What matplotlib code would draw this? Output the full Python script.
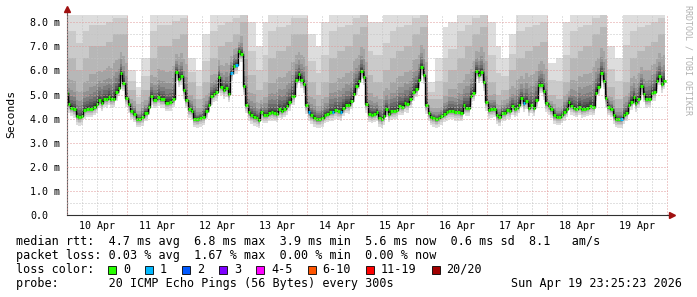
import numpy as np
import matplotlib
matplotlib.use('Agg')
import matplotlib.pyplot as plt
from matplotlib.patches import Rectangle
from matplotlib.ticker import FixedLocator, FuncFormatter, NullFormatter

# hours since Apr 10 00:00 and median rtt (ms)
hours = [0.3, 0.8, 1.9, 2.9, 4.0, 5.1, 5.9, 7.2, 8.3, 9.6, 10.9, 11.9, 12.9, 13.9, 14.9,
         16.0, 16.8, 17.9, 18.7, 19.7, 20.8, 21.6, 22.7, 23.7, 24.8, 25.9, 26.9, 28.0, 29.1,
         30.1, 31.7, 32.8, 33.9, 35.2, 36.5, 38.1, 39.9, 41.3, 42.7, 43.7, 44.8, 45.9, 46.7,
         47.7, 49.1, 49.9, 50.9, 52.3, 53.6, 54.7, 55.7, 56.8, 57.9, 58.9, 59.7, 60.8, 61.9,
         62.7, 63.7, 64.8, 65.9, 66.7, 67.7, 68.8, 69.9, 70.7, 71.7, 72.8, 73.9, 74.9, 76.0,
         76.8, 77.9, 78.9, 80.0, 81.1, 81.9, 82.9, 84.0, 85.1, 85.9, 86.9, 88.0, 89.1, 90.1,
         90.9, 91.7, 92.8, 93.9, 94.9, 95.7, 96.8, 97.9, 98.9, 100.0, 101.1, 102.1, 103.2,
         104.3, 105.3, 106.4, 107.5, 108.5, 109.6, 110.7, 111.7, 112.8, 113.9, 114.7, 115.7,
         116.8, 117.9, 118.9, 119.7, 120.8, 122.1, 123.0, 124.0, 125.1, 125.9, 126.7, 127.7,
         128.8, 129.9, 130.9, 132.0, 133.1, 134.1, 135.2, 136.3, 137.6, 138.7, 139.7, 140.8,
         141.9, 142.9, 143.7, 144.8, 145.6, 146.7, 147.7, 148.8, 149.9, 150.9, 152.0, 153.1,
         154.1, 155.5, 156.5, 157.9, 158.7, 159.7, 160.8, 161.6, 162.7, 163.7, 164.8, 165.9,
         166.7, 167.7, 168.8, 169.9, 170.9, 172.0, 173.1, 174.1, 175.2, 176.3, 177.3, 178.1,
         179.2, 180.0, 180.8, 181.9, 182.7, 183.7, 184.8, 185.9, 186.7, 187.7, 188.8, 189.9,
         190.7, 191.7, 192.8, 193.9, 194.9, 196.0, 197.1, 197.9, 198.9, 200.0, 200.8, 201.7,
         202.8, 203.9, 204.9, 206.0, 207.1, 208.1, 209.2, 210.5, 211.6, 212.7, 213.7, 214.8,
         215.6, 216.7, 217.7, 218.8, 219.6, 220.7, 221.7, 222.8, 223.9, 224.7, 225.7, 226.8,
         227.6, 228.7, 229.7, 230.8, 231.9, 232.9, 234.0, 235.1, 235.9, 237.0, 238.0, 239.1]
median_ms = [5.07, 4.60, 4.46, 4.38, 4.10, 4.05, 4.10, 4.35, 4.41, 4.41, 4.49, 4.59, 4.77, 4.66, 4.82,
             4.80, 4.90, 4.80, 4.82, 5.10, 5.29, 5.90, 5.48, 4.85, 4.60, 4.32, 4.19, 3.99, 3.99,
             4.05, 4.24, 4.49, 4.93, 4.77, 4.88, 4.80, 4.66, 4.68, 4.82, 5.93, 5.65, 5.76, 5.18,
             4.77, 4.38, 4.32, 3.99, 3.97, 4.02, 4.07, 4.32, 4.57, 4.93, 5.02, 5.10, 5.73, 5.32,
             5.18, 5.26, 5.02, 5.90, 6.18, 6.21, 6.81, 6.70, 5.35, 4.57, 4.27, 4.13, 4.05, 4.02,
             3.94, 4.27, 4.16, 4.16, 4.24, 4.27, 4.24, 4.19, 4.38, 4.32, 4.41, 4.52, 4.68, 4.93,
             4.93, 5.62, 5.84, 5.60, 5.43, 4.55, 4.27, 4.13, 4.02, 3.97, 3.97, 4.02, 4.16,
             4.19, 4.27, 4.27, 4.35, 4.30, 4.27, 4.46, 4.57, 4.55, 4.74, 5.04, 5.35,
             5.57, 5.98, 5.73, 4.60, 4.19, 4.16, 4.20, 4.27, 4.02, 3.97, 4.10, 4.41,
             4.19, 4.30, 4.32, 4.35, 4.52, 4.49, 4.63, 4.60, 4.80, 5.10, 5.24, 5.60,
             6.15, 5.79, 4.55, 4.24, 4.07, 4.02, 3.97, 4.02, 4.10, 4.21, 4.27, 4.32,
             4.32, 4.27, 4.27, 4.24, 4.55, 4.46, 4.46, 4.93, 5.07, 5.98, 5.82, 5.93,
             5.51, 4.68, 4.35, 4.38, 4.41, 4.13, 4.05, 4.24, 4.24, 4.35, 4.32, 4.52,
             4.41, 4.46, 4.57, 4.85, 4.63, 4.74, 4.46, 4.57, 4.46, 4.77, 5.40, 5.40,
             5.13, 4.63, 4.52, 4.38, 4.13, 4.07, 4.07, 4.16, 4.27, 4.41, 4.71, 4.52,
             4.46, 4.41, 4.49, 4.38, 4.41, 4.44, 4.52, 4.49, 5.07, 5.32, 5.90, 5.57,
             4.85, 4.49, 4.41, 4.13, 3.99, 3.97, 3.97, 4.13, 4.24, 4.55, 4.71, 4.90,
             4.63, 4.80, 5.35, 5.02, 4.80, 4.82, 5.07, 5.10, 5.57, 5.76, 5.43, 5.57]

# samples where 1 of 20 pings was lost
loss_hours = [65.9, 67.7, 96.8, 106.4, 109.6, 182.7, 221.7]
loss_count = [1, 1, 1, 1, 1, 1, 1]

# smoke envelope, one value per 3 hour block (ms): highest ping and 18th of 20 pings
smoke_top_ms = [9, 8.5, 9, 9, 9, 9, 9, 9,
                6.0, 5.3, 6.5, 9, 9, 9, 9, 9,
                6.5, 6.0, 7.5, 9, 9, 9, 9, 9,
                8.0, 7.0, 8.0, 9, 9, 9, 9, 9,
                7.5, 7.0, 8.0, 9, 9, 9, 9, 9,
                8.0, 8.0, 8.5, 9, 9, 9, 9, 9,
                5.5, 6.5, 7.8, 8.0, 9, 9, 9, 9,
                8.0, 7.0, 6.5, 7.5, 9, 9, 9, 9,
                6.3, 6.5, 8.0, 9, 9, 9, 9, 9,
                7.0, 6.5, 9, 9, 9, 9, 9, 9]
smoke_p90_ms = [6.5, 6.0, 6.5, 7.0, 7.0, 7.2, 7.5, 7.5,
                5.2, 4.6, 5.2, 6.5, 7.0, 7.0, 7.3, 7.5,
                5.5, 4.8, 5.5, 6.5, 7.0, 7.2, 7.5, 8.0,
                5.8, 5.2, 5.5, 6.5, 6.8, 7.0, 7.5, 7.5,
                5.5, 5.0, 5.5, 6.5, 6.8, 7.0, 7.5, 7.8,
                5.8, 5.5, 6.0, 6.5, 6.8, 7.0, 7.5, 7.8,
                4.8, 4.8, 5.5, 6.0, 6.5, 7.0, 7.5, 7.8,
                5.5, 5.0, 5.2, 6.0, 6.5, 6.8, 7.0, 7.2,
                5.0, 4.8, 5.5, 6.5, 6.8, 7.0, 7.5, 7.8,
                5.3, 4.8, 5.5, 6.5, 6.8, 7.0, 7.2, 7.5]
low_spread_ms = 0.35

days = ['10 Apr', '11 Apr', '12 Apr', '13 Apr', '14 Apr',
        '15 Apr', '16 Apr', '17 Apr', '18 Apr', '19 Apr']

loss_labels = ['0', '1', '2', '3', '4-5', '6-10', '11-19', '20/20']
loss_colors = ['#26ff00', '#00b8ff', '#0059ff', '#7e00ff',
               '#ff00ff', '#ff5500', '#ff0000', '#a10000']

legend_rows = [
    'median rtt:  4.7 ms avg  6.8 ms max  3.9 ms min  5.6 ms now  0.6 ms sd  8.1   am/s',
    'packet loss: 0.03 % avg  1.67 % max  0.00 % min  0.00 % now',
    'loss color:',
    'probe:       20 ICMP Echo Pings (56 Bytes) every 300s',
]
stamp = 'Sun Apr 19 23:25:23 2026'

MONO = 'DejaVu Sans Mono'
W, H = 697, 297
fig = plt.figure(figsize=(W / 100, H / 100), dpi=100)
ax = fig.add_axes([67 / W, 82 / H, 601 / W, 200 / H])

t = np.array(hours)
m = np.array(median_ms)
blk = np.clip((t // 3).astype(int), 0, len(smoke_top_ms) - 1)
p90 = np.maximum(np.array(smoke_p90_ms)[blk], m + 0.3)
top = np.maximum(np.array(smoke_top_ms)[blk], p90 + 0.2)

# spread of the 20 pings around the median (smokeping style)
up_prof = np.array([0.025, 0.06, 0.10, 0.16, 0.24, 0.35, 0.55, 1.0])
low_prof = np.array([1.0, 0.7, 0.5, 0.36, 0.26, 0.18, 0.12, 0.08, 0.05, 0.02])
pings = np.empty((20, len(t)))
pings[:10] = m - low_spread_ms * low_prof[:, None]
pings[10:18] = m + (p90 - m) * up_prof[:, None]
pings[18] = p90 + 0.45 * (top - p90)
pings[19] = top

for i in range(1, 11):
    g = int(19 * (10 - i)) + 50
    ax.fill_between(t, pings[i - 1], pings[20 - i], step='mid',
                    color='#%02x%02x%02x' % (g, g, g), lw=0, antialiased=False)

# median line: black risers, loss coloured treads
edges = np.concatenate([[t[0] - 0.5], (t[1:] + t[:-1]) / 2, [t[-1] + 0.5]])
ax.step(t, m, where='mid', color='black', lw=1.0)
lc = np.zeros(len(t), dtype=int)
for lh, n in zip(loss_hours, loss_count):
    lc[np.argmin(np.abs(t - lh))] = n
seg_colors = [loss_colors[k] for k in lc]
ax.hlines(m, edges[:-1], edges[1:], colors=seg_colors, lw=2.2)

ax.set_xlim(0, 240.4)
ax.set_ylim(0, 8.3)
for s in ['top', 'right']:
    ax.spines[s].set_visible(False)
ax.spines['left'].set_color('#606060')
ax.spines['bottom'].set_color('#303030')

ax.yaxis.set_major_locator(FixedLocator(np.arange(0, 8.1, 1.0)))
ax.yaxis.set_minor_locator(FixedLocator(np.arange(0.5, 8.1, 1.0)))
ax.xaxis.set_major_locator(FixedLocator(np.arange(0, 241, 24)))
ax.xaxis.set_minor_locator(FixedLocator(np.arange(6, 241, 6)))
ax.grid(which='major', color='#e09a9a', ls=(0, (1, 2)), lw=0.72)
ax.grid(which='minor', color='#c4c4c4', ls=(0, (1, 2)), lw=0.72)
ax.set_axisbelow(False)

ax.yaxis.set_major_formatter(FuncFormatter(lambda v, p: '0.0' if v == 0 else '%.1f m' % v))
ax.xaxis.set_major_formatter(NullFormatter())
ax.xaxis.set_minor_formatter(FuncFormatter(
    lambda v, p: days[int(round(v)) // 24] if int(round(v)) % 24 == 12 else ''))
ax.tick_params(axis='y', which='both', length=0, pad=26.6, labelsize=7.2)
ax.tick_params(axis='x', which='both', length=0, pad=4, labelsize=7.2)
for lab in ax.get_yticklabels():
    lab.set_horizontalalignment('left')
    lab.set_fontfamily(MONO)
for lab in ax.get_xticklabels(which='both'):
    lab.set_fontfamily(MONO)

# axis arrows
ax.plot([0, 0], [1.0, 1.02], transform=ax.transAxes, color='#606060', lw=0.8, clip_on=False)
ax.plot([0], [1.03], marker='^', ms=4.5, color='#a01010', transform=ax.transAxes, clip_on=False)
ax.plot([1.0, 1.005], [0, 0], transform=ax.transAxes, color='#303030', lw=0.8, clip_on=False)
ax.plot([1.006], [0], marker='>', ms=4.5, color='#a01010', transform=ax.transAxes, clip_on=False)

fig.text(11 / W, 1 - 114 / H, 'Seconds', rotation=90, ha='center', va='center',
         family=MONO, fontsize=8.2)
fig.text(688 / W, 1 - 5 / H, 'RRDTOOL / TOBI OETIKER', rotation=270, ha='center', va='top',
         family=MONO, fontsize=6, color='#b0b0b0')

row_y = [241.5, 255.5, 269.5, 283.5]
for txt, y in zip(legend_rows, row_y):
    fig.text(16 / W, 1 - y / H, txt, ha='left', va='center', family=MONO, fontsize=8.5)
fig.text(682 / W, 1 - row_y[3] / H, stamp, ha='right', va='center', family=MONO, fontsize=8.5)

char_w = 7.1
x = 108
for lab, col in zip(loss_labels, loss_colors):
    fig.add_artist(Rectangle((x / W, 1 - 273.5 / H), 8 / W, 8 / H, transform=fig.transFigure,
                             facecolor=col, edgecolor='black', lw=0.6))
    fig.text((x + 15) / W, 1 - row_y[2] / H, lab, ha='left', va='center', family=MONO, fontsize=8.5)
    x += 15 + len(lab) * char_w + 15

fig.savefig('out.png', dpi=100, facecolor='white')
